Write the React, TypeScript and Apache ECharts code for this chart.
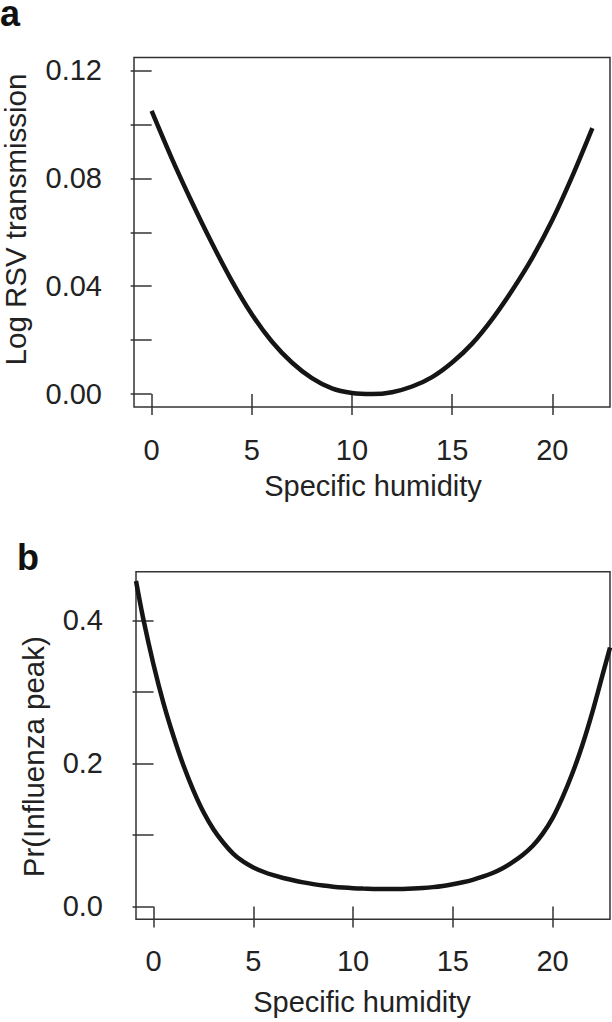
import React, { useEffect, useRef } from "react";
import * as echarts from "echarts";

// Panel a: Log RSV transmission vs specific humidity
const humidityA = [0, 1, 2, 3, 4, 5, 6, 7, 8, 9, 10, 11, 12, 13, 14, 15, 16, 17, 18, 19, 20, 21, 22];
const rsvA = [0.105, 0.0875, 0.0713, 0.0561, 0.042, 0.0296, 0.0195, 0.0117, 0.0059, 0.0021, 0.0004, 0.0, 0.0007, 0.0028, 0.0063, 0.0117, 0.0187, 0.0278, 0.0385, 0.0505, 0.0645, 0.0808, 0.0986];

// Panel b: Pr(Influenza peak) vs specific humidity
const humidityB = [
  -0.88, -0.5, 0, 0.5, 1, 1.5, 2, 2.5, 3, 3.5, 4, 4.5, 5, 5.5, 6, 6.5, 7, 7.5, 8, 8.5, 9, 9.5, 10, 10.5, 11,
  11.5, 12, 12.5, 13, 13.5, 14, 14.5, 15, 15.5, 16, 16.5, 17, 17.5, 18, 18.5, 19, 19.5, 20, 20.5, 21, 21.5, 22,
  22.5, 22.88,
];
const fluB = [
  0.455, 0.4, 0.338, 0.284, 0.238, 0.197, 0.162, 0.132, 0.108, 0.089, 0.0735, 0.0625, 0.0545, 0.0485, 0.0437,
  0.0398, 0.0365, 0.0336, 0.0312, 0.0292, 0.0276, 0.0264, 0.0255, 0.0249, 0.0245, 0.0243, 0.0243, 0.0245, 0.025,
  0.0258, 0.027, 0.0287, 0.031, 0.0338, 0.0372, 0.0415, 0.0468, 0.0535, 0.062, 0.072, 0.0845, 0.1015, 0.1235,
  0.1525, 0.1865, 0.226, 0.272, 0.323, 0.362,
];

const xTicks = [0, 5, 10, 15, 20];
const yTicksA = [0, 0.02, 0.04, 0.06, 0.08, 0.1, 0.12];
const yLabelsA = [0, 0.04, 0.08, 0.12];
const yTicksB = [0, 0.1, 0.2, 0.3, 0.4];
const yLabelsB = [0, 0.2, 0.4];

const FONT = "'Liberation Sans', Arial, Helvetica, sans-serif";
const TXT = "#222";
const AX = "#333";
const FS = 29;

export default function App() {
  const ref = useRef<HTMLDivElement>(null);
  useEffect(() => {
    if (!ref.current) return;
    const chart = echarts.init(ref.current, undefined, { renderer: "svg" });
    const axisCommonX = (gridIndex: number, margin: number) => ({
      type: "value",
      gridIndex,
      min: -0.88,
      max: 22.88,
      splitLine: { show: false },
      axisLine: { show: false },
      axisTick: { show: true, inside: false, length: 21, customValues: xTicks, lineStyle: { color: AX, width: 1.5 } },
      axisLabel: {
        show: true,
        customValues: xTicks,
        margin,
        fontSize: FS,
        fontFamily: FONT,
        color: TXT,
        formatter: (v: number) => String(v),
      },
    });
    const option = {
      animation: false,
      backgroundColor: "#fff",
      grid: [
        { left: 134, top: 57.5, width: 476, height: 349.5, show: true, borderColor: AX, borderWidth: 1.5, backgroundColor: "transparent" },
        { left: 136, top: 571.7, width: 474, height: 347.6, show: true, borderColor: AX, borderWidth: 1.5, backgroundColor: "transparent" },
      ],
      xAxis: [axisCommonX(0, 28), axisCommonX(1, 27)],
      yAxis: [
        {
          type: "value",
          gridIndex: 0,
          min: -0.0048,
          max: 0.1248,
          splitLine: { show: false },
          axisLine: { show: false },
          axisTick: { show: true, inside: false, length: 21, customValues: yTicksA, lineStyle: { color: AX, width: 1.5 } },
          axisLabel: {
            show: true,
            customValues: yLabelsA,
            margin: 32,
            fontSize: FS,
            fontFamily: FONT,
            color: TXT,
            formatter: (v: number) => v.toFixed(2),
          },
        },
        {
          type: "value",
          gridIndex: 1,
          min: -0.018,
          max: 0.468,
          splitLine: { show: false },
          axisLine: { show: false },
          axisTick: { show: true, inside: false, length: 21, customValues: yTicksB, lineStyle: { color: AX, width: 1.5 } },
          axisLabel: {
            show: true,
            customValues: yLabelsB,
            margin: 33,
            fontSize: FS,
            fontFamily: FONT,
            color: TXT,
            formatter: (v: number) => v.toFixed(1),
          },
        },
      ],
      series: [
        {
          type: "line",
          xAxisIndex: 0,
          yAxisIndex: 0,
          data: humidityA.map((x, i) => [x, rsvA[i]]),
          showSymbol: false,
          smooth: 0.3,
          lineStyle: { color: "#151515", width: 4.5 },
        },
        {
          type: "line",
          xAxisIndex: 1,
          yAxisIndex: 1,
          data: humidityB.map((x, i) => [x, fluB[i]]),
          showSymbol: false,
          smooth: 0.3,
          clip: true,
          lineStyle: { color: "#151515", width: 4.5 },
        },
      ],
      graphic: [
        { type: "text", left: 0, top: -4.5, style: { text: "a", fontSize: 36, fontWeight: "bold", fontFamily: FONT, fill: "#111" } },
        { type: "text", left: 17, top: 539, style: { text: "b", fontSize: 36, fontWeight: "bold", fontFamily: FONT, fill: "#111" } },
        {
          type: "text",
          x: 15.5,
          y: 219.5,
          rotation: Math.PI / 2,
          style: { text: "Log RSV transmission", fontSize: FS + 0.5, fontFamily: FONT, fill: TXT, align: "center", verticalAlign: "middle" },
        },
        {
          type: "text",
          x: 33,
          y: 756.7,
          rotation: Math.PI / 2,
          style: { text: "Pr(Influenza peak)", fontSize: FS + 0.5, fontFamily: FONT, fill: TXT, align: "center", verticalAlign: "middle" },
        },
        {
          type: "text",
          x: 373,
          y: 500,
          style: { text: "Specific humidity", fontSize: FS, fontFamily: FONT, fill: TXT, align: "center", verticalAlign: "bottom" },
        },
        {
          type: "text",
          x: 362,
          y: 1016,
          style: { text: "Specific humidity", fontSize: FS, fontFamily: FONT, fill: TXT, align: "center", verticalAlign: "bottom" },
        },
      ],
    };
    chart.setOption(option as any);
    return () => chart.dispose();
  }, []);
  return (
    <div
      ref={ref}
      style={{ position: "absolute", left: 0, top: 0, width: 612, height: 1022, background: "#fff" }}
    />
  );
}
